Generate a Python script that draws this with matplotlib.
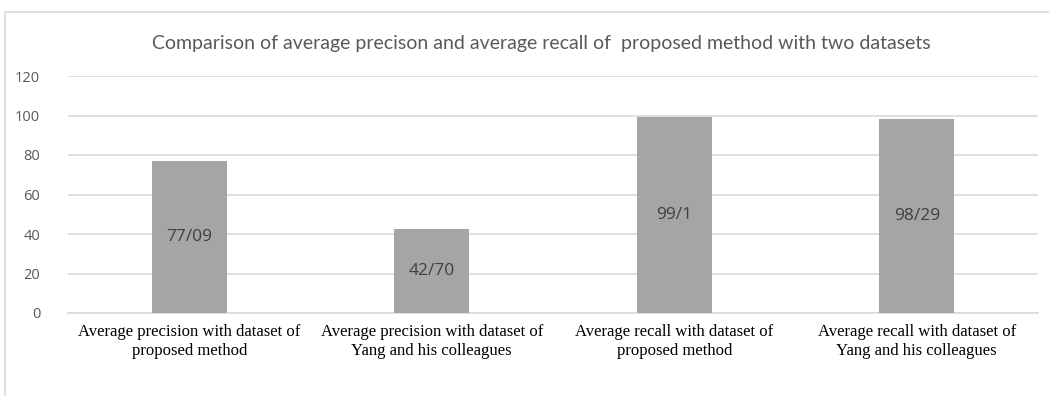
import matplotlib
matplotlib.use("Agg")
import matplotlib.pyplot as plt
from matplotlib.patches import Rectangle

categories = [
    "Average precision with dataset of\nproposed method",
    "Average precision with dataset of\nYang and his colleagues",
    "Average recall with dataset of\nproposed method",
    "Average recall with dataset of\nYang and his colleagues",
]
values = [77.09, 42.70, 99.1, 98.29]
value_labels = ["77/09", "42/70", "99/1", "98/29"]
yticks = [0, 20, 40, 60, 80, 100, 120]
title = "Comparison of average precison and average recall of  proposed method with two datasets"

W, H = 1049, 396
fig = plt.figure(figsize=(W / 100, H / 100), dpi=100)
fig.patch.set_facecolor("white")

# chart border
fig.patches.append(Rectangle((5 / W, -0.1), 1.2, (H - 12) / H + 0.1,
                             transform=fig.transFigure, fill=False,
                             edgecolor="#d9d9d9", linewidth=1.2))

ax = fig.add_axes([68 / W, 1 - 313 / H, (1038 - 68) / W, (313 - 76) / H])
x = list(range(len(categories)))
ax.bar(x, values, width=0.31, color="#a5a5a5", zorder=3)
for xi, v, lab in zip(x, values, value_labels):
    ax.text(xi, v / 2, lab, ha="center", va="center", color="#404040",
            fontsize=12.5, family="Open Sans", zorder=4)

ax.set_xlim(-0.5, 3.5)
ax.set_ylim(0, 120)
ax.set_yticks(yticks)
ax.set_yticklabels([str(t) for t in yticks], color="#595959",
                   fontsize=10.5, family="Open Sans")
ax.set_xticks(x)
ax.set_xticklabels(categories, fontsize=12, family="Liberation Serif",
                   color="black", linespacing=1.25)
ax.tick_params(axis="both", length=0)
ax.tick_params(axis="y", pad=20)
ax.tick_params(axis="x", pad=8)
ax.grid(axis="y", color="#d9d9d9", linewidth=1.2, zorder=0)
for s in ["top", "right", "left"]:
    ax.spines[s].set_visible(False)
ax.spines["bottom"].set_color("#d9d9d9")
ax.spines["bottom"].set_linewidth(1.2)

fig.text(541 / W, 1 - 43 / H, title, ha="center", va="center",
         fontsize=14, color="#595959", family="Lato")

fig.savefig("out.png", dpi=100)
